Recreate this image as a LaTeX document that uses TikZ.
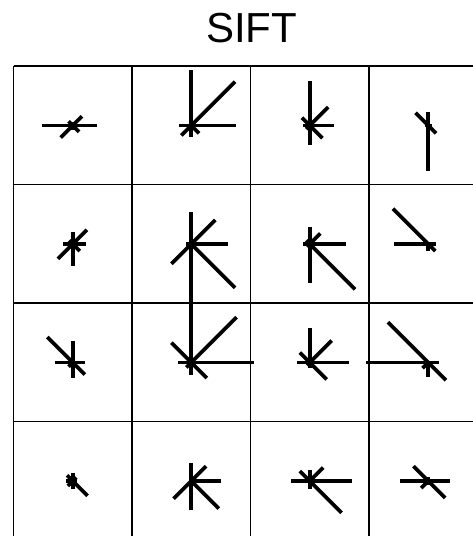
\documentclass[tikz,border=0pt]{standalone}
\usepackage{fontspec}
\setmainfont{Liberation Sans}
\newcommand\drawhist[2]{\foreach \l [count=\d from 0] in {#2} \draw[spike] (#1) -- ++(45*\d:\l);}

\begin{document}
\begin{tikzpicture}[x=0.5pt,y=0.5pt,cell/.style={line width=0.85pt},spike/.style={line width=1.9pt}]
\useasboundingbox (0,0) rectangle (472,-536);
\node[font=\fontsize{21}{25}\selectfont,inner sep=0pt] (title) at (251.5,-28.3) {SIFT};
% grid of cells (right and bottom border fall off the page)
\foreach \i in {0,...,3} {
  \draw[cell] ({13.5+118.5*\i},-66) -- ({13.5+118.5*\i},-540);
  \draw[cell] (13.5,{-66-118.5*\i}) -- (487.5,{-66-118.5*\i});
}
\foreach \r in {1,...,4} \foreach \c in {1,...,4}
  \coordinate (k\r\c) at ({72.75+118.5*(\c-1)},{-125.5-118.5*(\r-1)});
% orientation histograms: E, NE, N, NW, W, SW, S, SE
\drawhist{k11}{24,13,4,6,31,17,4,9}
\drawhist{k12}{45,62,56,0,12,14,11,11}
\drawhist{k13}{24,26,45,11,7,5,19,18}
\drawhist{k14}{4,0,14,18,3,0,45,11}
\drawhist{k21}{13,20,12,5,10,21,22,10}
\drawhist{k22}{37,34,32,0,5,28,60,62}
\drawhist{k23}{36,15,17,5,7,4,39,64}
\drawhist{k24}{8,0,0,50,34,0,7,10}
\drawhist{k31}{12,0,22,36,18,6,15,17}
\drawhist{k32}{63,64,60,28,13,7,12,22}
\drawhist{k33}{39,31,35,14,13,4,5,24}
\drawhist{k34}{11,0,0,57,62,8,14,25}
\drawhist{k41}{4,5,8,8,7,7,8,21}
\drawhist{k42}{30,21,18,0,0,25,29,39}
\drawhist{k43}{42,19,11,14,19,0,8,45}
\drawhist{k44}{22,0,4,21,28,10,4,24}
\end{tikzpicture}
\end{document}
